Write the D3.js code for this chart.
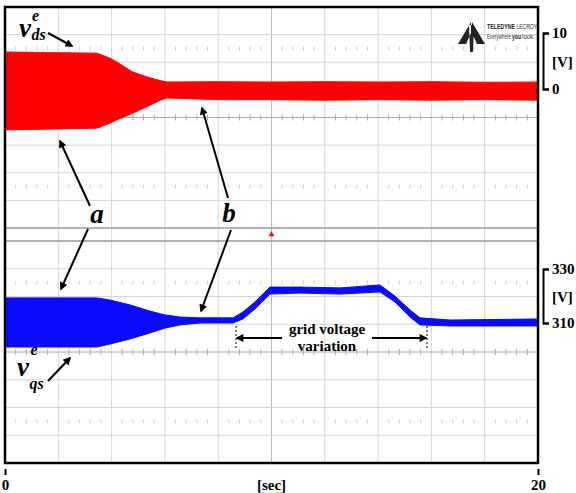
<!DOCTYPE html>
<html>
<head>
  <meta charset="utf-8">
  <script src="https://cdn.jsdelivr.net/npm/d3@7/dist/d3.min.js"></script>
  <style>
    body { margin: 0; background: white; }
    svg { display: block; }
    text { font-family: 'Liberation Serif', 'Times New Roman', serif; font-weight: bold; }
  </style>
</head>
<body>
<script>
  // time axis [sec]
  const timeTicks = [0, 20]
  // v_ds^e trace envelope [V]
  const vdsTime  = [0, 3.45, 3.94, 4.2, 4.8, 5.44, 5.82, 6.08, 8, 10, 12, 14, 16, 18, 20]
  const vdsUpper = [6.6, 6.4, 5.5, 4.8, 3.0, 2.0, 1.5, 1.25, 1.3, 1.25, 1.3, 1.25, 1.3, 1.2, 1.25]
  const vdsLower = [-7.3, -7.0, -6.1, -5.5, -4.3, -2.9, -2.0, -1.6, -1.9, -1.9, -2.0, -1.9, -2.0, -1.9, -2.0]
  const vdsTicks = [0, 10]
  // v_qs^e trace envelope [V]
  const vqsTime  = [0, 3.45, 3.94, 4.69, 5.44, 6.0, 6.57, 7.32, 8.56, 8.93, 9.38, 9.94, 11.07, 12.57, 14.07, 14.63, 15.2, 15.57, 16.7, 20]
  const vqsUpper = [319.3, 319.3, 318.5, 316.7, 314.4, 313.0, 312.2, 311.9, 311.9, 314.1, 317.8, 323.3, 323.3, 323.0, 324.1, 320.0, 314.8, 311.9, 311.1, 311.5]
  const vqsLower = [301.1, 301.1, 302.2, 304.1, 306.3, 308.1, 309.3, 310.0, 310.0, 311.5, 315.2, 320.7, 321.1, 320.7, 321.5, 317.8, 312.2, 309.3, 308.9, 308.9]
  const vqsTicks = [310, 330]

  const W = 576, H = 493
  const frame = {left: 5, right: 538, top: 7, bottom: 463}
  const screens = [{y0: 7, y1: 228}, {y0: 241, y1: 463}]

  const svg = d3.select('body').append('svg')
    .attr('width', W)
    .attr('height', H)

  const x = d3.scaleLinear().domain([0, 20]).range([frame.left, frame.right])
  const yTop = d3.scaleLinear().domain([0, 10]).range([89, 33])
  const yBot = d3.scaleLinear().domain([310, 330]).range([323, 269])

  svg.append('defs').append('marker')
    .attr('id', 'head')
    .attr('viewBox', '0 0 10 10')
    .attr('refX', 8).attr('refY', 5)
    .attr('markerWidth', 5).attr('markerHeight', 4)
    .attr('orient', 'auto')
    .append('path').attr('d', 'M0,0L10,5L0,10z').attr('fill', 'black')

  svg.select('defs').append('clipPath').attr('id', 'clip')
    .append('rect')
    .attr('x', frame.left).attr('y', frame.top)
    .attr('width', frame.right - frame.left).attr('height', frame.bottom - frame.top)

  // scope grid
  const grid = svg.append('g')
  const xDiv = d3.range(1, 10).map(i => x(i * 2))
  grid.selectAll('.vline').data(xDiv).join('line')
    .attr('x1', d => d).attr('x2', d => d)
    .attr('y1', frame.top).attr('y2', frame.bottom)
    .attr('stroke', (d, i) => i === 4 ? '#bbb' : '#d6d6d6')
    .attr('stroke-width', 1)

  const minorX = d3.range(1, 50).filter(i => i % 5 !== 0).map(i => x(i * 0.4))
  screens.forEach(s => {
    const dy = (s.y1 - s.y0) / 8
    grid.append('g').selectAll('line').data(d3.range(1, 8)).join('line')
      .attr('x1', frame.left).attr('x2', frame.right)
      .attr('y1', k => s.y0 + k * dy).attr('y2', k => s.y0 + k * dy)
      .attr('stroke', k => k === 4 ? '#aaa' : '#d6d6d6')
      .attr('stroke-width', 1)
    ;[1.5, 6.5, 4].forEach(k => {
      const yy = s.y0 + k * dy
      const len = k === 4 ? 3 : 2
      grid.append('g').selectAll('line').data(minorX).join('line')
        .attr('x1', d => d).attr('x2', d => d)
        .attr('y1', yy - len).attr('y2', yy + len)
        .attr('stroke', k === 4 ? '#aaa' : '#cfcfcf')
        .attr('stroke-width', 1)
    })
  })
  grid.selectAll('.sep').data([screens[0].y1, screens[1].y0]).join('line')
    .attr('x1', frame.left).attr('x2', frame.right)
    .attr('y1', d => d).attr('y2', d => d)
    .attr('stroke', '#999').attr('stroke-width', 1.3)

  // traces
  const plot = svg.append('g').attr('clip-path', 'url(#clip)')
  const vds = vdsTime.map((t, i) => ({t, hi: vdsUpper[i], lo: vdsLower[i]}))
  const vqs = vqsTime.map((t, i) => ({t, hi: vqsUpper[i], lo: vqsLower[i]}))

  plot.append('path')
    .datum(vds)
    .attr('d', d3.area().x(d => x(d.t)).y0(d => yTop(d.lo)).y1(d => yTop(d.hi)))
    .attr('fill', '#ff0000')
    .attr('stroke', '#ff0000').attr('stroke-width', 1)

  plot.append('path')
    .datum(vqs)
    .attr('d', d3.area().x(d => x(d.t)).y0(d => yBot(d.lo)).y1(d => yBot(d.hi)))
    .attr('fill', '#0a0aff')
    .attr('stroke', '#0a0aff').attr('stroke-width', 1)

  // trigger marker
  svg.append('path')
    .attr('d', d3.symbol(d3.symbolTriangle, 14)())
    .attr('transform', `translate(${x(10)},${(screens[0].y1 + screens[1].y0) / 2})`)
    .attr('fill', 'red')

  // frame
  svg.append('rect')
    .attr('x', frame.left).attr('y', frame.top)
    .attr('width', frame.right - frame.left).attr('height', frame.bottom - frame.top)
    .attr('fill', 'none').attr('stroke', 'black').attr('stroke-width', 2.5)

  // axes
  const xAxis = svg.append('g')
    .attr('transform', `translate(0,${frame.bottom + 6})`)
    .call(d3.axisBottom(x).tickValues(timeTicks).tickSize(6).tickPadding(4).tickFormat(d3.format('d')))
  xAxis.select('.domain').remove()
  xAxis.selectAll('line').attr('stroke-width', 2)
  xAxis.selectAll('text').attr('font-size', 15).attr('font-family', null).attr('fill', 'black')
  svg.append('text').attr('x', x(10)).attr('y', 490)
    .attr('text-anchor', 'middle').attr('font-size', 15).text('[sec]')

  function bracket(scale, ticks, ymid) {
    const g = svg.append('g')
      .attr('transform', `translate(543,0)`)
      .call(d3.axisRight(scale).tickValues(ticks).tickSize(6).tickSizeOuter(6).tickPadding(3))
    g.selectAll('path, line').attr('stroke-width', 2)
    g.selectAll('text').attr('font-size', 15).attr('font-family', null).attr('fill', 'black')
    svg.append('text').attr('x', 552).attr('y', ymid + 5).attr('font-size', 15).text('[V]')
  }
  bracket(yTop, vdsTicks, 62)
  bracket(yBot, vqsTicks, 297)

  // annotations
  function arrow(x1, y1, x2, y2, w) {
    svg.append('line')
      .attr('x1', x1).attr('y1', y1).attr('x2', x2).attr('y2', y2)
      .attr('stroke', 'black').attr('stroke-width', w || 2)
      .attr('marker-end', 'url(#head)')
  }
  function label(tx, ty, s, size) {
    return svg.append('text').attr('x', tx).attr('y', ty)
      .attr('font-size', size).attr('font-style', 'italic').text(s)
  }

  label(19, 37, 'v', 27)
  label(32, 21, 'e', 16)
  label(31.5, 40, 'ds', 16)
  arrow(48, 33, 72, 46)

  label(17, 376, 'v', 27)
  label(30.5, 355, 'e', 16)
  label(29.5, 389, 'qs', 16)
  arrow(48, 381, 70, 358)

  label(97, 223, 'a', 27).attr('text-anchor', 'middle')
  arrow(90, 206, 60, 141)
  arrow(88, 229, 61, 289)

  label(229, 222, 'b', 27).attr('text-anchor', 'middle')
  arrow(228, 198, 202, 108)
  arrow(231, 230, 201, 311)

  svg.selectAll('.dash').data([236, 427]).join('line')
    .attr('x1', d => d).attr('x2', d => d)
    .attr('y1', 326).attr('y2', 350)
    .attr('stroke', 'black').attr('stroke-width', 1)
    .attr('stroke-dasharray', '2,2')
  arrow(282, 338, 237, 338, 2)
  arrow(372, 338, 426, 338, 2)
  svg.append('text').attr('x', 327).attr('y', 334)
    .attr('text-anchor', 'middle').attr('font-size', 15).text('grid voltage')
  svg.append('text').attr('x', 327).attr('y', 351)
    .attr('text-anchor', 'middle').attr('font-size', 15).text('variation')

  // scope logo
  const logo = svg.append('g')
  logo.append('path')
    .attr('d', 'M471,22L458,44L466,44L471,33Z M472,22L485,44L477,44L472,33Z M469,25L474,25L473,52L470,52Z')
    .attr('fill', '#222')
  const logoFont = "'Liberation Sans Narrow', 'Liberation Sans', sans-serif"
  const logoWords = [
    {s: 'TELEDYNE', x: 487, y: 29, len: 28, size: 8, weight: 'bold', fill: '#222'},
    {s: 'LECROY', x: 516.5, y: 29, len: 20.5, size: 8, weight: 'normal', fill: '#222'},
    {s: 'Everywhere', x: 487, y: 39, len: 24, size: 7, weight: 'normal', fill: '#333'},
    {s: 'you', x: 512, y: 39, len: 9, size: 7, weight: 'bold', fill: '#222'},
    {s: 'look', x: 522, y: 39, len: 11.5, size: 7, weight: 'normal', fill: '#333'}
  ]
  logoWords.forEach(d => {
    const t = logo.append('text')
      .attr('font-size', d.size)
      .attr('fill', d.fill)
      .style('font-family', logoFont)
      .style('font-weight', d.weight)
      .text(d.s)
    const w = t.node().getComputedTextLength()
    t.attr('transform', `translate(${d.x},${d.y}) scale(${d.len / w},1)`)
  })
</script>
</body>
</html>
